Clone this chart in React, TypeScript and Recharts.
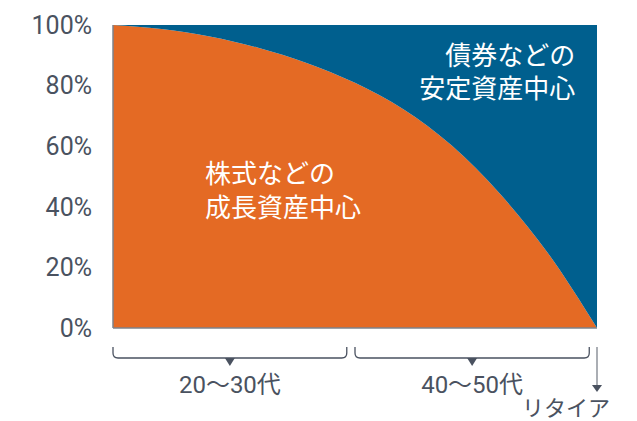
import React from "react"
import {
  AreaChart,
  Area,
  XAxis,
  YAxis,
  ReferenceArea,
  ReferenceDot,
} from "recharts"

// position along the life stage (0 = start, 10 = retirement)
const positions = [0, 1, 2, 3, 4, 5, 6, 7, 8, 9, 10]
// share of growth assets (stocks etc.), %
const stockShare = [100, 98.7, 96.2, 92.5, 87.5, 80.9, 72.2, 60.2, 44.2, 24.4, 0]
// share of stable assets (bonds etc.), %
const bondShare = [0, 1.3, 3.8, 7.5, 12.5, 19.1, 27.8, 39.8, 55.8, 75.6, 100]

const yTicks = [0, 20, 40, 60, 80, 100]
const stageLabels = ["20〜30代", "40〜50代"]
const retireLabel = "リタイア"
const stockLabel = ["株式などの", "成長資産中心"]
const bondLabel = ["債券などの", "安定資産中心"]

const ORANGE = "#E46A24"
const BLUE = "#005F8E"
const TEXT = "#4A5260"
const AXIS = "#7D838C"
const FONT = "Roboto, 'Noto Sans CJK JP', sans-serif"

const data = positions.map((x, i) => ({
  x,
  stock: stockShare[i],
  bond: bondShare[i],
}))

function Bracket(label: string) {
  return (props: any) => {
    const { x, y, width, height } = props
    const r = 5
    const bottom = y + height
    const mid = x + width / 2
    const d = `M${x},${y} L${x},${bottom - r} Q${x},${bottom} ${x + r},${bottom} L${x + width - r},${bottom} Q${x + width},${bottom} ${x + width},${bottom - r} L${x + width},${y}`
    return (
      <g>
        <path d={d} fill="none" stroke={TEXT} strokeWidth={1.3} />
        <path d={`M${mid - 5},${bottom} L${mid + 5},${bottom} L${mid},${bottom + 8} Z`} fill={TEXT} />
        <text
          x={mid}
          y={bottom + 27}
          textAnchor="middle"
          dominantBaseline="central"
          fill={TEXT}
          fontSize={24}
          fontFamily={FONT}
        >
          {label}
        </text>
      </g>
    )
  }
}

function RetireArrow(props: any) {
  const { cx, cy } = props
  return (
    <g>
      <line x1={cx} y1={cy} x2={cx} y2={cy + 39} stroke={AXIS} strokeWidth={1.3} />
      <path d={`M${cx - 5},${cy + 38} L${cx + 5},${cy + 38} L${cx},${cy + 45} Z`} fill={TEXT} />
      <text
        x={cx - 31}
        y={cy + 61}
        textAnchor="middle"
        dominantBaseline="central"
        fill={TEXT}
        fontSize={22}
        fontFamily={FONT}
      >
        {retireLabel}
      </text>
    </g>
  )
}

function TwoLines(lines: string[], anchor: "start" | "end") {
  return (props: any) => {
    const { cx, cy } = props
    return (
      <g>
        {lines.map((t, i) => (
          <text
            key={t}
            x={cx}
            y={cy + i * 33.5}
            textAnchor={anchor}
            dominantBaseline="central"
            fill="#FFFFFF"
            fontSize={26}
            fontFamily={FONT}
          >
            {t}
          </text>
        ))}
      </g>
    )
  }
}

export default function App() {
  return (
    <div
      style={{
        position: "absolute",
        left: 0,
        top: 0,
        width: 637,
        height: 421,
        background: "#fff",
        fontFamily: FONT,
      }}
    >
      <AreaChart
        width={637}
        height={421}
        data={data}
        margin={{ top: 25, right: 40, left: 0, bottom: 92 }}
      >
        <XAxis
          dataKey="x"
          type="number"
          domain={[0, 10]}
          tick={false}
          tickLine={false}
          height={1}
          axisLine={{ stroke: AXIS, strokeWidth: 1.5 }}
        />
        <YAxis
          domain={[0, 100]}
          ticks={yTicks}
          width={113}
          tickLine={false}
          tickSize={0}
          tickMargin={21}
          axisLine={{ stroke: AXIS, strokeWidth: 1.5 }}
          tick={{ fill: TEXT, fontSize: 25, fontFamily: FONT }}
          tickFormatter={(v) => `${v}%`}
        />
        <Area
          type="monotone"
          dataKey="stock"
          stackId="a"
          stroke="none"
          fill={ORANGE}
          fillOpacity={1}
          isAnimationActive={false}
        />
        <Area
          type="monotone"
          dataKey="bond"
          stackId="a"
          stroke="none"
          fill={BLUE}
          fillOpacity={1}
          isAnimationActive={false}
        />
        <ReferenceArea
          x1={0}
          x2={4.83}
          y1={-6.3}
          y2={-9.9}
          ifOverflow="visible"
          shape={Bracket(stageLabels[0])}
        />
        <ReferenceArea
          x1={5}
          x2={9.84}
          y1={-6.3}
          y2={-9.9}
          ifOverflow="visible"
          shape={Bracket(stageLabels[1])}
        />
        <ReferenceDot x={10} y={-6.3} ifOverflow="visible" shape={RetireArrow} />
        <ReferenceDot x={1.9} y={50.8} ifOverflow="visible" shape={TwoLines(stockLabel, "start")} />
        <ReferenceDot x={9.55} y={89.8} ifOverflow="visible" shape={TwoLines(bondLabel, "end")} />
      </AreaChart>
    </div>
  )
}
